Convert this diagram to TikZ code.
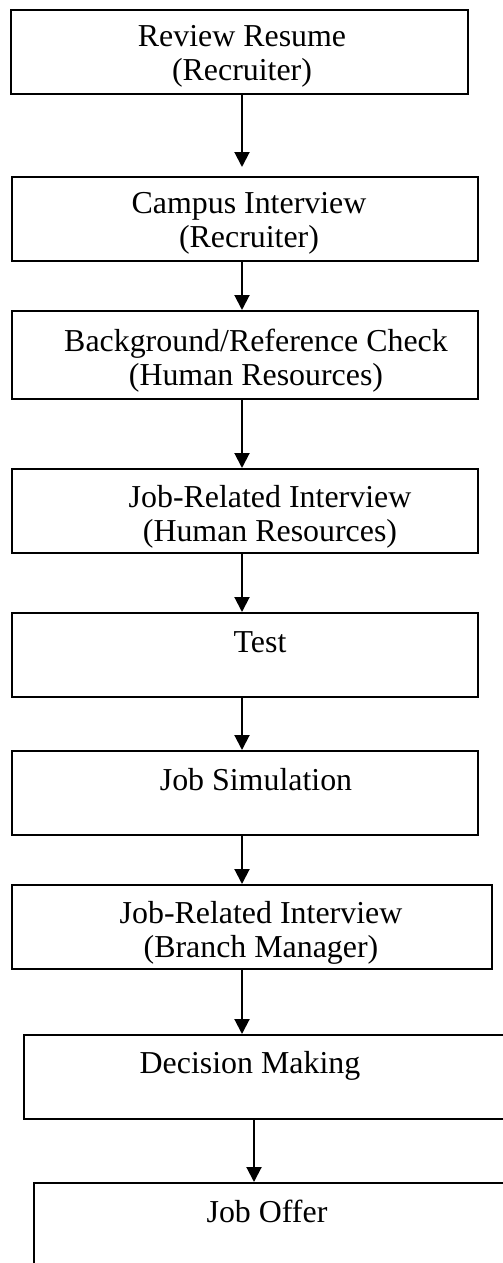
\documentclass[tikz,border=0pt]{standalone}
\usepackage{fontspec}
\setmainfont{Liberation Serif}
\usetikzlibrary{arrows.meta}

\begin{document}
\begin{tikzpicture}[x=0.5pt, y=-0.5pt,
  stepbox/.style={draw, line width=1pt, inner sep=0pt, minimum height=42pt},
  steptext/.style={align=center, inner sep=0pt, anchor=base,
    font=\fontsize{15.95}{17}\selectfont},
  flow/.style={-{Triangle[width=7.5pt,length=7.5pt]}, line width=1pt}]
  \useasboundingbox (0,0) rectangle (503,1263);
  \clip (0,0) rectangle (503,1263);
  \coordinate (spine) at (242,0);
  \coordinate (spinelow) at (254,0);

  \node[stepbox, minimum width=228.5pt] (resume) at (239.5,52) {};
  \node[stepbox, minimum width=233pt] (campus) at (245,219) {};
  \node[stepbox, minimum width=233pt, minimum height=44pt] (check) at (245,355) {};
  \node[stepbox, minimum width=233pt] (hrint) at (245,511) {};
  \node[stepbox, minimum width=233pt] (test) at (245,655) {};
  \node[stepbox, minimum width=233pt] (sim) at (245,793) {};
  \node[stepbox, minimum width=240pt] (bmint) at (252,927) {};
  \node[stepbox, minimum width=243pt] (decision) at (267,1077) {};
  \node[stepbox, minimum width=243pt] (offer) at (277,1225) {};

  % two-line texts sit on their last baseline
  \node[steptext] (resume-t) at (242,81) {Review Resume\\(Recruiter)};
  \node[steptext] (campus-t) at (249,247) {Campus Interview\\(Recruiter)};
  \node[steptext] (check-t) at (256,385) {Background/Reference Check\\(Human Resources)};
  \node[steptext] (hrint-t) at (270,541) {Job-Related Interview\\(Human Resources)};
  \node[steptext] (test-t) at (260,652) {Test};
  \node[steptext] (sim-t) at (256,790) {Job Simulation};
  \node[steptext] (bmint-t) at (261,957) {Job-Related Interview\\(Branch Manager)};
  \node[steptext] (decision-t) at (250,1073) {Decision Making};
  \node[steptext] (offer-t) at (267,1222) {Job Offer};

  \draw[flow, shorten >=4.5pt] (resume.south -| spine) -- (campus.north -| spine);
  \draw[flow] (campus.south -| spine) -- (check.north -| spine);
  \draw[flow] (check.south -| spine) -- (hrint.north -| spine);
  \draw[flow] (hrint.south -| spine) -- (test.north -| spine);
  \draw[flow] (test.south -| spine) -- (sim.north -| spine);
  \draw[flow] (sim.south -| spine) -- (bmint.north -| spine);
  \draw[flow] (bmint.south -| spine) -- (decision.north -| spine);
  \draw[flow] (decision.south -| spinelow) -- (offer.north -| spinelow);
\end{tikzpicture}
\end{document}
